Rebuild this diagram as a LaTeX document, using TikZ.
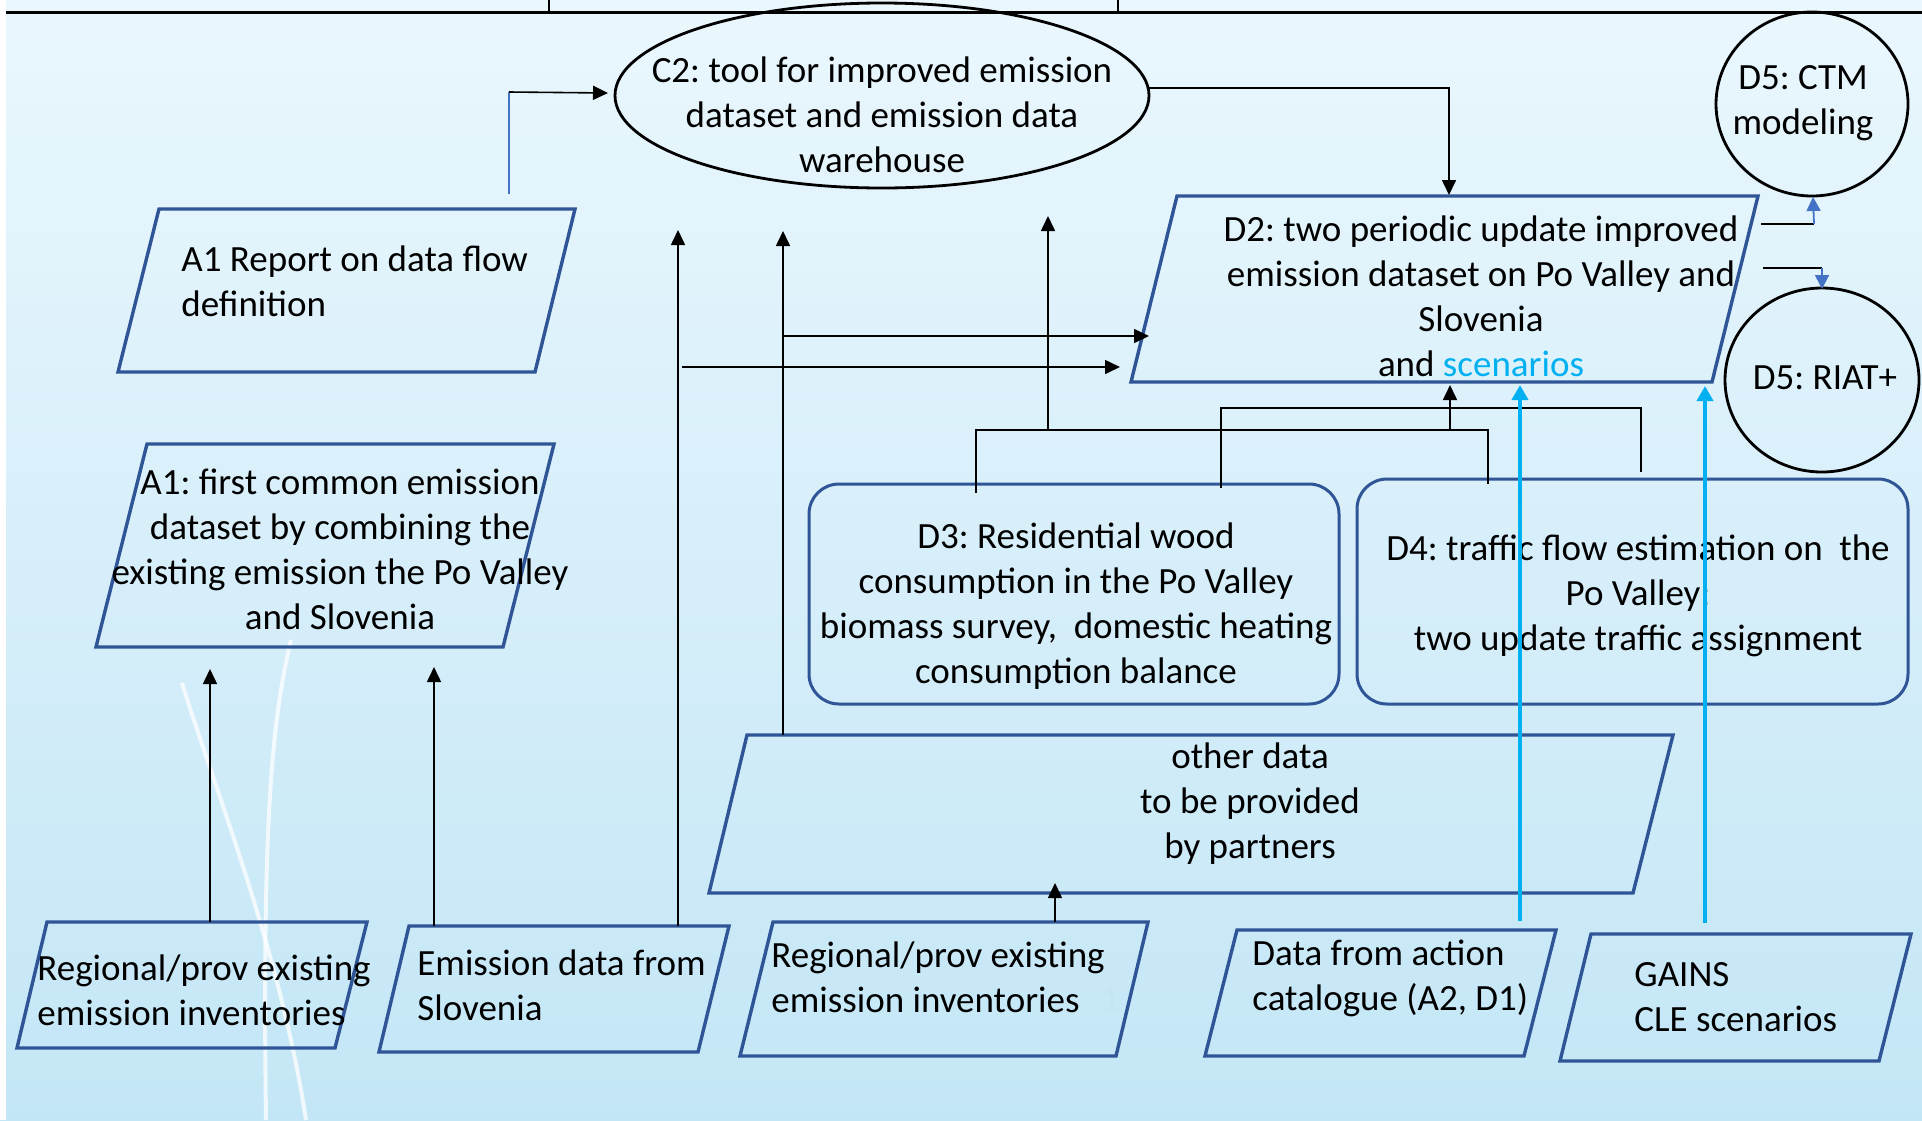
\documentclass[tikz,border=0pt]{standalone}
\usepackage{fontspec}
\setmainfont{Carlito}
\frenchspacing
\usetikzlibrary{shapes.geometric,arrows.meta}
\definecolor{bgtop}{HTML}{EAF7FD}
\definecolor{bgbot}{HTML}{C3E6F6}
\definecolor{boxblue}{HTML}{2F5597}
\definecolor{cyanl}{HTML}{00B0F0}
\definecolor{arrblue}{HTML}{4472C4}
\definecolor{faint}{HTML}{C6E4F3}
\tikzset{
  txt/.style={font=\fontsize{18.5}{22.5}\selectfont, inner sep=0pt, align=center},
  ltxt/.style={txt, align=left, anchor=west},
  para/.style={draw=boxblue, line width=1.7pt, line join=miter},
  rbox/.style={draw=boxblue, line width=1.5pt, rounded corners=15pt, rectangle, inner sep=0pt},
  oval/.style={draw=black, line width=1.4pt, ellipse, inner sep=0pt},
  conn/.style={draw=black, line width=0.8pt},
  bconn/.style={draw=black, line width=1.3pt},
  arr/.style={conn, -{Triangle[length=7.5pt,width=7pt]}},
  cyarr/.style={draw=cyanl, line width=2pt, -{Triangle[length=7.5pt,width=8pt]}},
  blarr/.style={draw=arrblue, line width=0.9pt, -{Triangle[length=7pt,width=7pt]}},
}
\begin{document}
\begin{tikzpicture}[x=0.5pt,y=-0.5pt]
\useasboundingbox (0,0) rectangle (1922,1120);
% background
\shade[top color=bgtop, bottom color=bgbot] (0,0) rectangle (1922,1120);
\fill[white] (0,0) rectangle (6,1120);
% decorative dandelion stems
\draw[white, line width=2pt, opacity=0.75] (291,640) .. controls (272,720) and (262,820) .. (266,1120);
\draw[white, line width=2pt, opacity=0.75] (182,683) .. controls (215,790) and (280,950) .. (306,1120);
% top table border
\draw[line width=1.5pt] (6,12) -- (1922,12);
\draw[line width=1pt] (549,0) -- (549,12);
\draw[line width=1pt] (1118,0) -- (1118,12);

% ---------- nodes ----------
% C2 ellipse
\node[oval, minimum width=267pt, minimum height=92.5pt] (C2) at (882,95.5) {};
\node[txt] (C2t) at (882,115) {C2: tool for improved emission\\dataset and emission data\\warehouse};
% D5 circles
\node[oval, minimum width=96pt, minimum height=92pt] (CTM) at (1812,104) {};
\node[txt] (CTMt) at (1803,103) {D5: CTM\\modeling};
\node[oval, minimum width=97pt, minimum height=92pt] (RIAT) at (1822,380) {};
\node[txt] (RIATt) at (1825,378) {D5: RIAT+};

% D2
\draw[para] (1177,196) coordinate (D2tl) -- (1758,196) coordinate (D2tr) -- (1712,382) coordinate (D2br) -- (1131,382) coordinate (D2bl) -- cycle;
\node[txt] (D2) at (1481,296) {D2: two periodic update improved\\emission dataset on Po Valley and\\Slovenia\\and \textcolor{cyanl}{scenarios}};

% A1 report
\draw[para] (159,209) -- (575,209) -- (535,372) -- (118,372) -- cycle;
\node[ltxt] (A1R) at (181,281) {A1 Report on data flow\\definition};
% A1 common
\draw[para] (147,444) -- (554,444) -- (503,647) -- (96,647) -- cycle;
\node[txt] (A1C) at (340,549) {A1: first common emission\\dataset by combining the\\existing emission the Po Valley\\and Slovenia};

% D3, D4
\node[rbox, minimum width=265pt, minimum height=110pt] (D3) at (1074,594) {};
\node[txt] (D3t) at (1076,606) {D3: Residential wood\\consumption in the Po Valley\\biomass survey,~ domestic heating\\consumption balance};
\node[rbox, minimum width=275.5pt, minimum height=112.5pt] (D4) at (1632.5,591.5) {};
\node[txt] (D4t) at (1638,596) {D4: traffic flow estimation on~ the\\Po Valley;\\two update traffic assignment};

% other data
\draw[para] (747,735) -- (1673,735) -- (1633,893) -- (709,893) -- cycle;
\node[txt] (OD) at (1250,804) {other data\\to be provided\\by partners};

% bottom boxes
\draw[para] (47,922) -- (367,922) -- (335,1048) -- (17,1048) -- cycle;
\node[ltxt] (R1) at (37,990) {Regional/prov existing\\emission inventories};
\draw[para] (409,926) -- (729,926) -- (698,1052) -- (379,1052) -- cycle;
\node[ltxt] (ES) at (417,985) {Emission data from\\Slovenia};
\draw[para] (773,922) -- (1148,922) -- (1116,1056) -- (740,1056) -- cycle;
\node[ltxt] (R2) at (771,977) {Regional/prov existing\\emission inventories};
\node[txt, text=faint] (R2n) at (1110,1000) {1};
\draw[para] (1237,930) -- (1556,930) -- (1524,1056) -- (1205,1056) -- cycle;
\node[ltxt] (DA) at (1252,978) {Data from action\\catalogue (A2, D1)};
\draw[para] (1591,934) -- (1911,934) -- (1879,1061) -- (1560,1061) -- cycle;
\node[ltxt] (GA) at (1634,997) {GAINS\\CLE scenarios};

% ---------- connector end points ----------
\coordinate (a1rout) at (509,194);
\coordinate (a1rbend) at (509,92);
\coordinate (c2in) at (608,93);
\coordinate (r1out) at (210,922);
\coordinate (a1cin1) at (210,669);
\coordinate (esout1) at (434,926);
\coordinate (a1cin2) at (434,667);
\coordinate (esout2) at (678,926);
\coordinate (c2in2) at (678,230);
\coordinate (odout) at (783,735);
\coordinate (c2in3) at (783,231);
\coordinate (odh) at (783,336);
\coordinate (d2in1) at (1149,336);
\coordinate (esh) at (682,367);
\coordinate (d2in2) at (1120,367);
\coordinate (c2out) at (1149,88);
\coordinate (c2bend) at (1449,88);
\coordinate (d2top) at (1449,195);
\coordinate (d3a) at (976,493);
\coordinate (barA1) at (976,430);
\coordinate (barA2) at (1488,430);
\coordinate (d4a) at (1488,484);
\coordinate (barAc) at (1048,430);
\coordinate (c2in4) at (1048,216);
\coordinate (barAd) at (1450,430);
\coordinate (d2in3) at (1450,385);
\coordinate (d3b) at (1221,488);
\coordinate (barB1) at (1221,408);
\coordinate (barB2) at (1641,408);
\coordinate (d4b) at (1641,472);
\coordinate (daout) at (1520,921);
\coordinate (d2in4) at (1520,385);
\coordinate (gaout) at (1705,923);
\coordinate (d2in5) at (1705,386);
\coordinate (r2out) at (1055,922);
\coordinate (odin) at (1055,883);
\coordinate (d2o1) at (1761,224);
\coordinate (d2o1b) at (1814,224);
\coordinate (ctmin) at (1813,197);
\coordinate (d2o2) at (1763,268);
\coordinate (d2o2b) at (1822,268);
\coordinate (riatin) at (1822,289);

% ---------- connectors ----------
\draw[draw=arrblue, line width=0.8pt] (a1rout) -- (a1rbend);
\draw[arr] (a1rbend) -- (c2in);
\draw[arr] (r1out) -- (a1cin1);
\draw[arr] (esout1) -- (a1cin2);
\draw[arr] (esout2) -- (c2in2);
\draw[arr] (odout) -- (c2in3);
\draw[arr] (odh) -- (d2in1);
\draw[arr] (esh) -- (d2in2);
\draw[arr] (c2out) -- (c2bend) -- (d2top);
\draw[bconn] (d3a) -- (barA1) -- (barA2) -- (d4a);
\draw[arr] (barAc) -- (c2in4);
\draw[arr] (barAd) -- (d2in3);
\draw[bconn] (d3b) -- (barB1) -- (barB2) -- (d4b);
\draw[cyarr] (daout) -- (d2in4);
\draw[cyarr] (gaout) -- (d2in5);
\draw[arr] (r2out) -- (odin);
\draw[conn] (d2o1) -- (d2o1b);
\draw[blarr] (d2o1b) -- (ctmin);
\draw[bconn] (d2o2) -- (d2o2b);
\draw[blarr] (d2o2b) -- (riatin);
\end{tikzpicture}
\end{document}
